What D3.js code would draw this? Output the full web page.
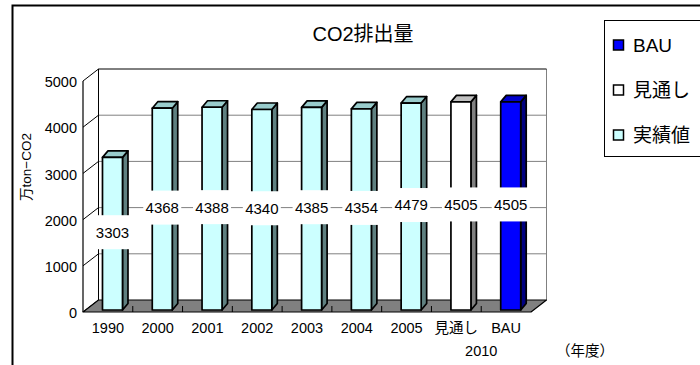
<!DOCTYPE html>
<html>
<head>
<meta charset="utf-8">
<script src="https://cdn.jsdelivr.net/npm/d3@7"></script>
<style>
  html, body { margin: 0; padding: 0; background: #fff; }
  svg { display: block; }
  text { font-family: "Liberation Sans", Arial, "Noto Sans CJK JP", sans-serif; fill: #000; }
</style>
</head>
<body>
<svg id="chart" width="700" height="365"></svg>
<script>
// Annual CO2 emissions (万ton-CO2)
const categories = ["1990", "2000", "2001", "2002", "2003", "2004", "2005", "見通し", "BAU"];
const values     = [3303, 4368, 4388, 4340, 4385, 4354, 4479, 4505, 4505];
const seriesOf   = ["実績値", "実績値", "実績値", "実績値", "実績値", "実績値", "実績値", "見通し", "BAU"];
const yTicks     = [0, 1000, 2000, 3000, 4000, 5000];
const legendItems = ["BAU", "見通し", "実績値"];

// face colours per series: front, side, top
const palette = {
  "実績値": { front: "#CCFFFF", side: "#5F8080", top: "#99CCCC" },
  "見通し": { front: "#FFFFFF", side: "#808080", top: "#C0C0C0" },
  "BAU":    { front: "#0000FF", side: "#000080", top: "#0000CC" }
};

const svg = d3.select("#chart");

// outer chart frame
svg.append("rect").attr("x", 12.5).attr("y", 5.5).attr("width", 720).attr("height", 400)
  .attr("fill", "none").attr("stroke", "#000").attr("stroke-width", 2);

// 3D geometry: front plane and depth offset to the back wall
const frontLeft = 83, frontRight = 531;
const depth = { dx: 15.5, dy: -12 };
const y = d3.scaleLinear().domain([0, 5000]).range([312, 81]);
const x = d3.scaleBand().domain(categories).range([frontLeft, frontRight]);

const g = svg.append("g");

// back wall
const bx0 = frontLeft + depth.dx, bx1 = frontRight + depth.dx;
g.append("rect").attr("x", bx0).attr("y", y(5000) + depth.dy)
  .attr("width", bx1 - bx0).attr("height", y(0) - y(5000)).attr("fill", "#fff");

// gridlines on the back wall
g.selectAll(".grid").data(yTicks.filter(d => d > 0 && d < 5000)).join("line")
  .attr("x1", bx0).attr("x2", bx1)
  .attr("y1", d => y(d) + depth.dy).attr("y2", d => y(d) + depth.dy)
  .attr("stroke", "#808080").attr("stroke-width", 1);

// back wall edges
g.append("line").attr("x1", bx1).attr("x2", bx1)
  .attr("y1", y(5000) + depth.dy).attr("y2", y(0) + depth.dy)
  .attr("stroke", "#808080").attr("stroke-width", 1);
g.append("line").attr("x1", bx0).attr("x2", bx1)
  .attr("y1", y(5000) + depth.dy).attr("y2", y(5000) + depth.dy)
  .attr("stroke", "#000").attr("stroke-width", 1);
g.append("line").attr("x1", bx0).attr("x2", bx0)
  .attr("y1", y(5000) + depth.dy).attr("y2", y(0) + depth.dy)
  .attr("stroke", "#000").attr("stroke-width", 1);

// side wall diagonals at each tick
g.selectAll(".diag").data(yTicks).join("line")
  .attr("x1", frontLeft).attr("y1", d => y(d))
  .attr("x2", bx0).attr("y2", d => y(d) + depth.dy)
  .attr("stroke", "#000").attr("stroke-width", 1);

// front value axis
g.append("line").attr("x1", frontLeft).attr("x2", frontLeft)
  .attr("y1", y(5000)).attr("y2", y(0))
  .attr("stroke", "#000").attr("stroke-width", 1.2);

// floor
const floorPts = [[frontLeft, y(0)], [frontRight, y(0)],
  [frontRight + depth.dx, y(0) + depth.dy], [frontLeft + depth.dx, y(0) + depth.dy]];
g.append("polygon").attr("points", floorPts.map(p => p.join(",")).join(" "))
  .attr("fill", "#808080").attr("stroke", "#000").attr("stroke-width", 1.2)
  .attr("stroke-linejoin", "round");

// category tick marks on the floor
g.selectAll(".ctick").data(categories.slice(1)).join("line")
  .attr("x1", d => x(d)).attr("x2", d => x(d))
  .attr("y1", y(0)).attr("y2", y(0) - 6)
  .attr("stroke", "#000").attr("stroke-width", 1);

// bars
const barW = 20, barDx = 5.5, barDy = -6.5, barShiftX = 4.6, barShiftY = -2;
const bars = g.selectAll(".bar").data(categories.map((c, i) => ({ c, v: values[i], s: seriesOf[i] })))
  .join("g");

bars.each(function (d) {
  const sel = d3.select(this);
  const cx = x(d.c) + x.bandwidth() / 2 + barShiftX;
  const x0 = cx - barW / 2, x1 = cx + barW / 2;
  const yb = y(0) + barShiftY, yt = y(d.v) + barShiftY;
  const col = palette[d.s];
  const poly = (pts, fill) => sel.append("polygon")
    .attr("points", pts.map(q => q.join(",")).join(" ")).attr("fill", fill)
    .attr("stroke", "#000").attr("stroke-width", 1.7).attr("stroke-linejoin", "round");
  poly([[x1, yb], [x1 + barDx, yb + barDy], [x1 + barDx, yt + barDy], [x1, yt]], col.side);
  poly([[x0, yt], [x0 + barDx, yt + barDy], [x1 + barDx, yt + barDy], [x1, yt]], col.top);
  poly([[x0, yb], [x1, yb], [x1, yt], [x0, yt]], col.front);
});

// data labels centred on each bar
const labels = g.selectAll(".lbl").data(categories.map((c, i) => ({ c, v: values[i] }))).join("g")
  .attr("transform", d => `translate(${x(d.c) + x.bandwidth() / 2 + barShiftX},${y(d.v / 2) + barShiftY - 1.5})`);
labels.append("rect").attr("x", -19).attr("y", -17).attr("width", 38).attr("height", 34).attr("fill", "#fff");
labels.append("text").attr("text-anchor", "middle").attr("dy", "0.36em")
  .attr("font-size", 15).text(d => d.v);

// value axis tick labels
svg.selectAll(".ylab").data(yTicks).join("text")
  .attr("x", 77).attr("y", d => y(d) + 1).attr("dy", "0.36em")
  .attr("text-anchor", "end").attr("font-size", 14.5).text(d => d);

// category labels
svg.selectAll(".xlab").data(categories).join("text")
  .attr("x", d => x(d) + x.bandwidth() / 2).attr("y", 333)
  .attr("text-anchor", "middle").attr("font-size", 14.5).text(d => d);
svg.append("text").attr("x", (x("見通し") + x("BAU") + x.bandwidth()) / 2).attr("y", 356)
  .attr("text-anchor", "middle").attr("font-size", 14.5).text("2010");
svg.append("text").attr("x", 585).attr("y", 356)
  .attr("text-anchor", "middle").attr("font-size", 14.5).text("（年度）");

// axis title
svg.append("text").attr("transform", "translate(31,167) rotate(-90)")
  .attr("text-anchor", "middle").attr("font-size", 13.5).text("万ton−CO2");

// chart title
svg.append("text").attr("x", 363).attr("y", 41).attr("text-anchor", "middle")
  .attr("font-size", 20).text("CO2排出量");

// legend
const lg = svg.append("g");
lg.append("rect").attr("x", 604.5).attr("y", 20.5).attr("width", 120).attr("height", 136)
  .attr("fill", "#fff").attr("stroke", "#000").attr("stroke-width", 1);
const ly = d3.scalePoint().domain(legendItems).range([45, 135]);
const li = lg.selectAll(".li").data(legendItems).join("g")
  .attr("transform", d => `translate(613,${ly(d)})`);
li.append("rect").attr("x", 0.5).attr("y", -5).attr("width", 10).attr("height", 10)
  .attr("fill", d => palette[d].front).attr("stroke", "#000").attr("stroke-width", 1.5);
li.append("text").attr("x", 20).attr("dy", "0.36em").attr("font-size", 19).text(d => d);
</script>
</body>
</html>
